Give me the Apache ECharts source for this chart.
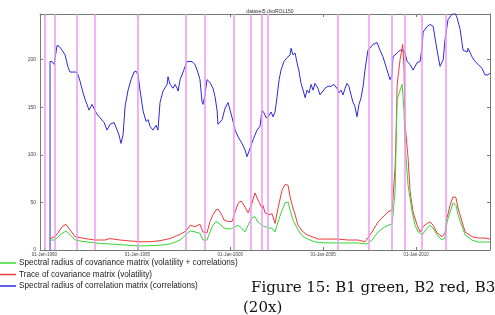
<!DOCTYPE html>
<html>
<head>
<meta charset="utf-8">
<script src="https://cdn.jsdelivr.net/npm/echarts@6/dist/echarts.min.js"></script>
<style>
html,body{margin:0;padding:0;background:#fff;}
#chart{width:495px;height:315px;}
</style>
</head>
<body>
<div id="chart"></div>
<script>
// ---- data (decimal years, values) ----
const chartTitle = 'dataset5.dvoROL150';
const seriesNames = [
  'Spectral radius of covariance matrix (volatility + correlations)',
  'Trace of covariance matrix (volatility)',
  'Spectral radius of correlation matrix (correlations)'
];
const xTickYears = [1990, 1995, 2000, 2005, 2010];
const yTicks = [0, 50, 100, 150, 200];
const eventDates = [1990.03, 1990.57, 1991.74, 1992.72, 1995.00, 1997.58, 1998.63, 2000.17,
  2001.12, 2001.70, 2002.00, 2005.79, 2007.47, 2008.69, 2009.39, 2010.28, 2011.58];

const blueX = [1990.30,1990.30,1990.41,1990.52,1990.68,1990.79,1990.95,1991.11,1991.27,1991.38,1991.49,1991.70,1991.81,1991.92,
  1992.08,1992.19,1992.40,1992.56,1992.78,1992.99,1993.21,1993.37,1993.53,1993.75,1993.91,1994.01,1994.12,1994.23,1994.34,
  1994.50,1994.66,1994.82,1994.93,1995.04,1995.15,1995.31,1995.47,1995.58,1995.68,1995.84,1996.01,1996.11,1996.22,1996.38,
  1996.60,1996.65,1996.76,1996.92,1997.03,1997.14,1997.19,1997.30,1997.46,1997.67,1997.73,1997.94,1998.10,1998.27,1998.37,
  1998.48,1998.53,1998.64,1998.75,1998.91,1999.07,1999.18,1999.29,1999.34,1999.56,1999.72,1999.88,1999.99,2000.10,2000.26,
  2000.42,2000.63,2000.80,2000.90,2000.96,2001.07,2001.23,2001.44,2001.60,2001.71,2001.82,2001.93,2002.04,2002.20,2002.30,
  2002.41,2002.52,2002.63,2002.73,2002.89,2003.05,2003.22,2003.27,2003.38,2003.49,2003.59,2003.70,2003.81,2003.92,2004.03,
  2004.13,2004.24,2004.35,2004.46,2004.56,2004.72,2004.83,2004.99,2005.10,2005.26,2005.42,2005.58,2005.74,2005.85,2005.96,
  2006.07,2006.18,2006.28,2006.39,2006.50,2006.61,2006.71,2006.82,2006.93,2007.04,2007.15,2007.25,2007.41,2007.52,2007.68,
  2007.90,2008.06,2008.22,2008.44,2008.60,2008.71,2008.76,2008.98,2009.14,2009.30,2009.41,2009.52,2009.68,2009.84,2010.06,
  2010.22,2010.33,2010.38,2010.60,2010.76,2010.92,2011.13,2011.29,2011.46,2011.56,2011.72,2011.94,2012.10,2012.21,2012.37,
  2012.53,2012.75,2012.80,2013.01,2013.18,2013.34,2013.55,2013.71,2013.87,2013.98];
const blueY = [0,198,198,195,215,214,210,205,192,187,187,187,184,177,
  165,158,147,153,144,139,134,126,132,134,126,121,112,121,151,
  168,179,187,188,184,167,146,135,137,130,126,131,126,155,167,
  174,182,174,170,174,170,167,179,187,198,200,198,195,186,179,
  156,153,163,179,176,170,161,147,132,137,149,155,147,139,126,
  119,112,105,98,100,107,116,126,130,147,144,139,140,145,140,
  145,161,179,189,198,202,205,212,205,207,197,188,175,168,160,
  168,165,174,168,175,170,163,167,170,172,172,174,170,165,168,
  163,170,175,172,163,155,151,140,153,160,172,189,210,212,216,
  218,210,203,189,179,184,203,207,210,210,207,198,195,189,197,
  198,214,229,235,237,235,210,193,200,221,242,248,249,244,232,
  210,208,212,203,198,195,191,184,184,186];

const redX = [1990.30,1990.57,1990.73,1990.95,1991.16,1991.38,1991.65,1991.92,1992.19,1992.72,1993.26,1993.53,1994.07,
  1994.61,1995.15,1995.68,1996.22,1996.76,1997.30,1997.62,1997.84,1998.10,1998.37,1998.53,1998.75,1998.91,1999.07,1999.23,
  1999.34,1999.51,1999.67,1999.88,2000.10,2000.26,2000.42,2000.58,2000.74,2000.96,2001.17,2001.33,2001.49,2001.71,2001.76,
  2001.87,2002.04,2002.25,2002.41,2002.57,2002.79,2002.95,2003.11,2003.22,2003.33,2003.49,2003.65,2003.86,2004.13,2004.40,
  2004.72,2005.26,2005.80,2006.34,2006.88,2007.25,2007.41,2007.63,2007.96,2008.33,2008.49,2008.71,2008.76,2008.87,2008.92,
  2008.98,2009.03,2009.14,2009.23,2009.28,2009.35,2009.41,2009.57,2009.68,2009.84,2010.06,2010.22,2010.38,2010.60,2010.76,
  2010.92,2011.13,2011.40,2011.56,2011.67,2011.83,2011.99,2012.15,2012.26,2012.48,2012.64,2013.01,2013.34,2013.71,2013.98];
const redY = [12,14,18,24.5,27,21,14,13,12,10.5,10.5,12,10.5,
  9.5,8.7,8.7,9.8,12,16.5,20,26,24.5,27,19,18,30,37,42,
  43,38,31.5,30,30,40,49,51.5,47,39,49,60,52.6,44,47,
  39,37,38,28,44,63,69,68,56,47,37,26,20,16,14,
  11.5,11.5,11.5,10.5,10.5,8.7,12.6,19,29.5,37,40,42,55,86,118,
  172,182,200,210,216,193,132,97,61,40,26,19,24.5,28,29.5,
  26,18,14,18,34,47,56,55,44,29.5,19,14,12.6,12.6,11.5];

const greenX = [1990.30,1990.57,1990.84,1991.16,1991.38,1991.65,1991.92,1992.45,1992.99,1993.53,1994.07,1995.15,1996.22,
  1996.76,1997.30,1997.62,1997.84,1998.10,1998.37,1998.53,1998.75,1998.91,1999.07,1999.23,1999.45,1999.67,1999.99,2000.26,
  2000.42,2000.58,2000.80,2000.96,2001.17,2001.33,2001.49,2001.71,2001.87,2002.04,2002.25,2002.41,2002.57,2002.79,2002.95,
  2003.11,2003.22,2003.38,2003.65,2003.92,2004.18,2004.56,2005.10,2005.80,2006.34,2006.88,2007.36,2007.63,2007.96,2008.33,
  2008.71,2008.76,2008.87,2008.98,2009.14,2009.25,2009.35,2009.41,2009.57,2009.79,2009.95,2010.11,2010.33,2010.60,2010.76,
  2010.92,2011.13,2011.40,2011.56,2011.67,2011.83,2011.99,2012.15,2012.26,2012.48,2012.64,2013.01,2013.34,2013.98];
const greenY = [10.5,10.5,16,20,16,10.5,9.5,8,7,6.3,5.6,4.2,5,
  6.3,10.5,16,20,19,17.5,10.5,10.5,19,26,30,27,23,22,24.5,
  26,23.5,19,26,34,35,29.5,26,24.5,23,23,19,29.5,42,49.5,
  50.5,42,31.5,21,14,11.5,8.4,7.4,7.4,7.4,7.4,6.3,10.5,19,24.5,
  27.4,37,61,158,168,174,147,110,68,40,26,19,16,23,26,
  23,16,10.5,12.6,29.5,40,49.5,47,37,24.5,16,10.5,8.4,8.4];

const zip = (xs, ys) => xs.map((x, i) => [x, ys[i]]);

const chart = echarts.init(document.getElementById('chart'), null, {renderer: 'canvas'});
const axisColor = '#777';
const labelFont = 'Liberation Sans';
const xMin = 1989.76, xMax = 2013.98, yMin = 0, yMax = 248;
const blueColor = '#2a2ae0', redColor = '#f03a3a', greenColor = '#34d834';

chart.setOption({
  animation: false,
  backgroundColor: '#ffffff',
  title: {
    text: chartTitle, left: 265, top: 4, textAlign: 'center',
    textStyle: {fontSize: 5, fontWeight: 'normal', color: '#333', fontFamily: labelFont}
  },
  grid: {left: 40, right: 5, top: 14, bottom: 65, containLabel: false},
  legend: {
    orient: 'vertical', left: 0, top: 258.5, padding: 0, itemGap: 2.5,
    itemWidth: 16, itemHeight: 1.5, icon: 'rect',
    data: [
      {name: seriesNames[0], itemStyle: {color: greenColor}},
      {name: seriesNames[1], itemStyle: {color: redColor}},
      {name: seriesNames[2], itemStyle: {color: blueColor}}
    ],
    textStyle: {fontSize: 8.2, lineHeight: 9, color: '#222', fontFamily: labelFont, padding: [0,0,0,-2]}
  },
  xAxis: [{
    type: 'value', min: xMin, max: xMax, position: 'bottom',
    axisLine: {show: true, onZero: false, lineStyle: {color: axisColor, width: 1}},
    axisTick: {show: true, inside: true, length: 3, customValues: xTickYears, lineStyle: {color: axisColor}},
    axisLabel: {show: true, customValues: xTickYears, fontSize: 4.5, margin: 2, color: '#444', fontFamily: labelFont,
      formatter: v => '01-Jan-' + Math.round(v)},
    splitLine: {show: false}
  }, {
    type: 'value', min: xMin, max: xMax, position: 'top',
    axisLine: {show: true, onZero: false, lineStyle: {color: axisColor, width: 1}},
    axisTick: {show: true, inside: true, length: 3, customValues: xTickYears, lineStyle: {color: axisColor}},
    axisLabel: {show: false}, splitLine: {show: false}
  }],
  yAxis: [{
    type: 'value', min: yMin, max: yMax, position: 'left',
    axisLine: {show: true, onZero: false, lineStyle: {color: axisColor, width: 1}},
    axisTick: {show: true, inside: true, length: 3, customValues: yTicks, lineStyle: {color: axisColor}},
    axisLabel: {show: true, customValues: yTicks, fontSize: 5, margin: 4, color: '#444', fontFamily: labelFont},
    splitLine: {show: false}
  }, {
    type: 'value', min: yMin, max: yMax, position: 'right',
    axisLine: {show: true, onZero: false, lineStyle: {color: axisColor, width: 1}},
    axisTick: {show: true, inside: true, length: 3, customValues: yTicks, lineStyle: {color: axisColor}},
    axisLabel: {show: false}, splitLine: {show: false}
  }],
  series: [
    {
      name: 'events', type: 'line', data: [], z: 1, silent: true,
      markLine: {
        silent: true, symbol: 'none', label: {show: false}, animation: false,
        lineStyle: {color: '#ee98f2', width: 1.5, type: 'solid', opacity: 1},
        data: eventDates.map(d => ({xAxis: d}))
      }
    },
    {name: seriesNames[2], type: 'line', data: zip(blueX, blueY), showSymbol: false, symbol: 'none', z: 3,
      lineStyle: {color: blueColor, width: 1}, itemStyle: {color: blueColor}},
    {name: seriesNames[1], type: 'line', data: zip(redX, redY), showSymbol: false, symbol: 'none', z: 3,
      lineStyle: {color: redColor, width: 1}, itemStyle: {color: redColor}},
    {name: seriesNames[0], type: 'line', data: zip(greenX, greenY), showSymbol: false, symbol: 'none', z: 3,
      lineStyle: {color: greenColor, width: 1}, itemStyle: {color: greenColor}}
  ],
  graphic: [
    {type: 'text', left: 251, top: 280.5, style: {text: 'Figure 15: B1 green, B2 red, B3', fontSize: 15,
      fontFamily: 'DejaVu Serif', fill: '#111'}},
    {type: 'text', left: 243, top: 300.5, style: {text: '(20x)', fontSize: 15, fontFamily: 'DejaVu Serif', fill: '#111'}}
  ]
});
</script>
</body>
</html>
